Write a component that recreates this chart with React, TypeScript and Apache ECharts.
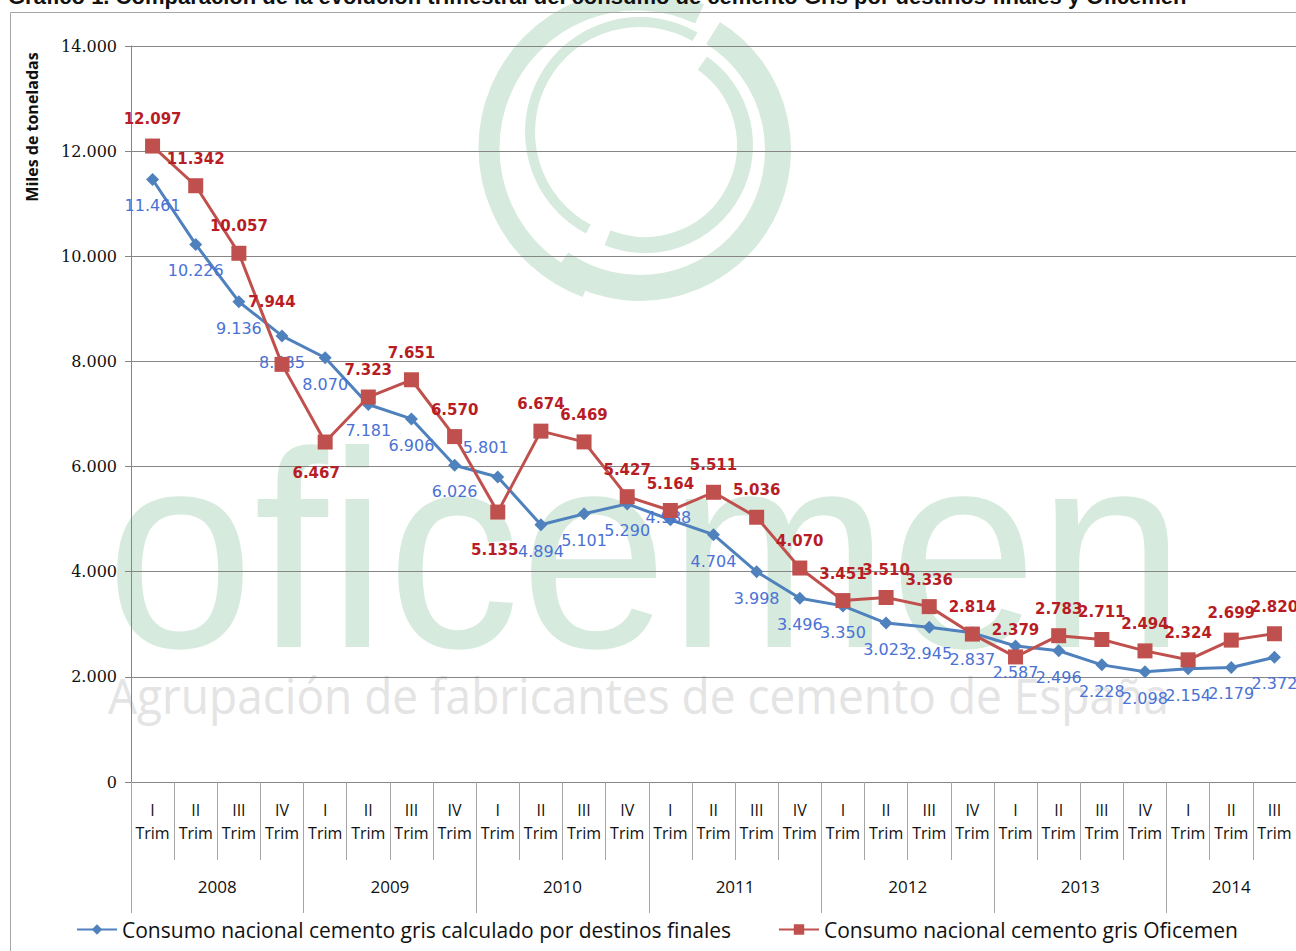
import React, { useEffect, useRef } from "react";
import * as echarts from "echarts";

const years = ["2008", "2009", "2010", "2011", "2012", "2013", "2014"];
const quartersPerYear = [4, 4, 4, 4, 4, 4, 3];
const quarterNames = ["I", "II", "III", "IV"];

const destinosFinales = [
  11461, 10226, 9136, 8485, 8070, 7181, 6906, 6026, 5801, 4894, 5101, 5290, 4988, 4704,
  3998, 3496, 3350, 3023, 2945, 2837, 2587, 2496, 2228, 2098, 2154, 2179, 2372,
];
const oficemen = [
  12097, 11342, 10057, 7944, 6467, 7323, 7651, 6570, 5135, 6674, 6469, 5427, 5164, 5511,
  5036, 4070, 3451, 3510, 3336, 2814, 2379, 2783, 2711, 2494, 2324, 2699, 2820,
];

const seriesNames = [
  "Consumo nacional cemento gris calculado por destinos finales",
  "Consumo nacional cemento gris Oficemen",
];

const fmtMiles = (v: number) => {
  if (v === 0) return "0";
  const th = Math.floor(v / 1000);
  const rest = String(v % 1000).padStart(3, "0");
  return th > 0 ? `${th}.${rest}` : String(v);
};

export default function App() {
  const ref = useRef<HTMLDivElement>(null);

  useEffect(() => {
    if (!ref.current) return;
    const chart = echarts.init(ref.current, undefined, { renderer: "svg" });

    const categories: string[] = [];
    const yearStarts: number[] = [];
    const yearCenters: number[] = [];
    years.forEach((y, i) => {
      yearStarts.push(categories.length);
      yearCenters.push(categories.length + quartersPerYear[i] / 2);
      quarterNames.slice(0, quartersPerYear[i]).forEach((q) => categories.push(`${y}-${q}`));
    });
    const total = categories.length;

    // label placement tweaks (style only)
    const blueLabelOverride: Record<number, any> = {
      8: { position: "top", distance: 15, offset: [-12, 0] },
      12: { position: "inside", offset: [-2, -2] },
    };
    const redLabelOverride: Record<number, any> = {
      3: { offset: [-10, -35] },
      4: { position: "bottom", distance: 16, offset: [-9, 0] },
      8: { position: "bottom", distance: 23, offset: [-3, 0] },
    };

    const blueData = destinosFinales.map((v, i) =>
      blueLabelOverride[i] ? { value: v, label: blueLabelOverride[i] } : v
    );
    const redData = oficemen.map((v, i) =>
      redLabelOverride[i] ? { value: v, label: redLabelOverride[i] } : v
    );

    const axisGray = "#868686";
    const tickGray = "#a6a6a6";
    const wmGreen = "#d6eadd";

    const legendText = { fontFamily: "Open Sans", fontSize: 21, color: "#111" };

    chart.setOption({
      animation: false,
      backgroundColor: "#ffffff",
      grid: { left: 131, top: 46, right: 0, bottom: 169, containLabel: false, outerBoundsMode: "none" },
      xAxis: [
        {
          type: "category",
          data: categories,
          boundaryGap: true,
          axisLine: { show: true, lineStyle: { color: axisGray, width: 1 } },
          axisTick: { show: true, length: 78, interval: 0, alignWithLabel: false, lineStyle: { color: tickGray } },
          axisLabel: {
            interval: 0,
            margin: 16,
            fontFamily: "Open Sans",
            fontSize: 16,
            lineHeight: 23,
            color: "#111",
            formatter: (v: string) => `${v.split("-")[1]}\nTrim`,
          },
          splitLine: { show: false },
        },
        {
          type: "category",
          data: categories,
          boundaryGap: true,
          position: "bottom",
          offset: 78,
          axisLine: { show: false },
          axisTick: {
            show: true,
            length: 53,
            interval: (index: number) => yearStarts.includes(index) || index === total,
            lineStyle: { color: tickGray },
          },
          axisLabel: { show: false },
          splitLine: { show: false },
        },
        {
          type: "value",
          min: 0,
          max: total,
          interval: 0.5,
          position: "bottom",
          axisLine: { show: false },
          axisTick: { show: false },
          splitLine: { show: false },
          axisLabel: {
            margin: 96,
            fontFamily: "Open Sans",
            fontSize: 17,
            color: "#111",
            showMinLabel: true,
            showMaxLabel: true,
            formatter: (v: number) => {
              const i = yearCenters.findIndex((c) => Math.abs(c - v) < 1e-6);
              return i >= 0 ? years[i] : "";
            },
          },
        },
      ],
      yAxis: {
        type: "value",
        min: 0,
        max: 14000,
        interval: 2000,
        axisLine: { show: true, lineStyle: { color: axisGray } },
        axisTick: { show: true, length: 6, lineStyle: { color: axisGray } },
        splitLine: { show: true, lineStyle: { color: axisGray, width: 1 } },
        axisLabel: {
          margin: 14,
          fontFamily: "DejaVu Serif",
          fontSize: 16,
          color: "#111",
          formatter: (v: number) => fmtMiles(v),
        },
      },
      legend: [
        {
          left: 71,
          top: 914,
          data: [seriesNames[0]],
          itemWidth: 40,
          itemHeight: 13,
          textStyle: legendText,
        },
        {
          left: 773,
          top: 914,
          data: [seriesNames[1]],
          itemWidth: 40,
          itemHeight: 13,
          textStyle: legendText,
        },
      ],
      graphic: [
        // watermark logo arcs
        { type: "arc", z: -10, shape: { cx: 637, cy: 148, r: 148, startAngle: (110 * Math.PI) / 180, endAngle: (295 * Math.PI) / 180, clockwise: true }, style: { stroke: wmGreen, lineWidth: 21, fill: "none" }, silent: true },
        { type: "arc", z: -10, shape: { cx: 640, cy: 150, r: 138, startAngle: (-58 * Math.PI) / 180, endAngle: (125 * Math.PI) / 180, clockwise: true }, style: { stroke: wmGreen, lineWidth: 26, fill: "none" }, silent: true },
        { type: "arc", z: -10, shape: { cx: 640, cy: 132, r: 110, startAngle: (118 * Math.PI) / 180, endAngle: (300 * Math.PI) / 180, clockwise: true }, style: { stroke: wmGreen, lineWidth: 10, fill: "none" }, silent: true },
        { type: "arc", z: -10, shape: { cx: 645, cy: 145, r: 100, startAngle: (-55 * Math.PI) / 180, endAngle: (112 * Math.PI) / 180, clockwise: true }, style: { stroke: wmGreen, lineWidth: 16, fill: "none" }, silent: true },
        // watermark words
        {
          type: "text",
          z: -10,
          x: 106,
          y: 550,
          scaleX: 0.95,
          silent: true,
          style: { text: "oficemen", font: '280px "Liberation Sans"', fill: wmGreen, align: "left", verticalAlign: "middle" },
        },
        {
          type: "text",
          z: -10,
          x: 108,
          y: 695,
          scaleX: 0.92,
          silent: true,
          style: { text: "Agrupación de fabricantes de cemento de España", font: '50px "Open Sans"', fill: "#e4e4e4", align: "left", verticalAlign: "middle" },
        },
        // chart border
        { type: "rect", z: -5, silent: true, shape: { x: 10.5, y: 12.5, width: 1300, height: 960 }, style: { fill: "none", stroke: "#a6a6a6", lineWidth: 1 } },
        // title (cropped at top)
        {
          type: "text",
          x: 8,
          y: -4,
          silent: true,
          style: {
            text: "Gráfico 1. Comparación de la evolución trimestral del consumo de cemento Gris por destinos finales y Oficemen",
            font: 'bold 22px "Liberation Sans"',
            fill: "#111",
            align: "left",
            verticalAlign: "middle",
          },
        },
        // y axis name
        {
          type: "text",
          x: 32,
          y: 127,
          rotation: Math.PI / 2,
          silent: true,
          style: { text: "Miles de toneladas", font: 'bold 16px "Open Sans"', fill: "#111", align: "center", verticalAlign: "middle" },
        },
      ],
      series: [
        {
          type: "line",
          name: seriesNames[0],
          xAxisIndex: 0,
          data: blueData,
          symbol: "diamond",
          symbolSize: 13,
          lineStyle: { width: 3, color: "#4F81BD" },
          itemStyle: { color: "#4F81BD" },
          label: {
            show: true,
            position: "bottom",
            distance: 12,
            color: "#4a72d4",
            fontFamily: "DejaVu Sans",
            fontSize: 16,
            formatter: (p: any) => fmtMiles(p.value),
          },
          z: 3,
        },
        {
          type: "line",
          name: seriesNames[1],
          xAxisIndex: 0,
          data: redData,
          symbol: "rect",
          symbolSize: 15,
          lineStyle: { width: 3, color: "#C0504D" },
          itemStyle: { color: "#C0504D" },
          label: {
            show: true,
            position: "top",
            distance: 12,
            color: "#b81c24",
            fontWeight: "bold",
            fontFamily: "DejaVu Sans",
            fontSize: 15,
            formatter: (p: any) => fmtMiles(p.value),
          },
          z: 4,
        },
      ],
    });

    return () => chart.dispose();
  }, []);

  return (
    <div
      ref={ref}
      style={{ position: "absolute", left: 0, top: 0, width: 1296, height: 951, background: "#fff" }}
    />
  );
}
